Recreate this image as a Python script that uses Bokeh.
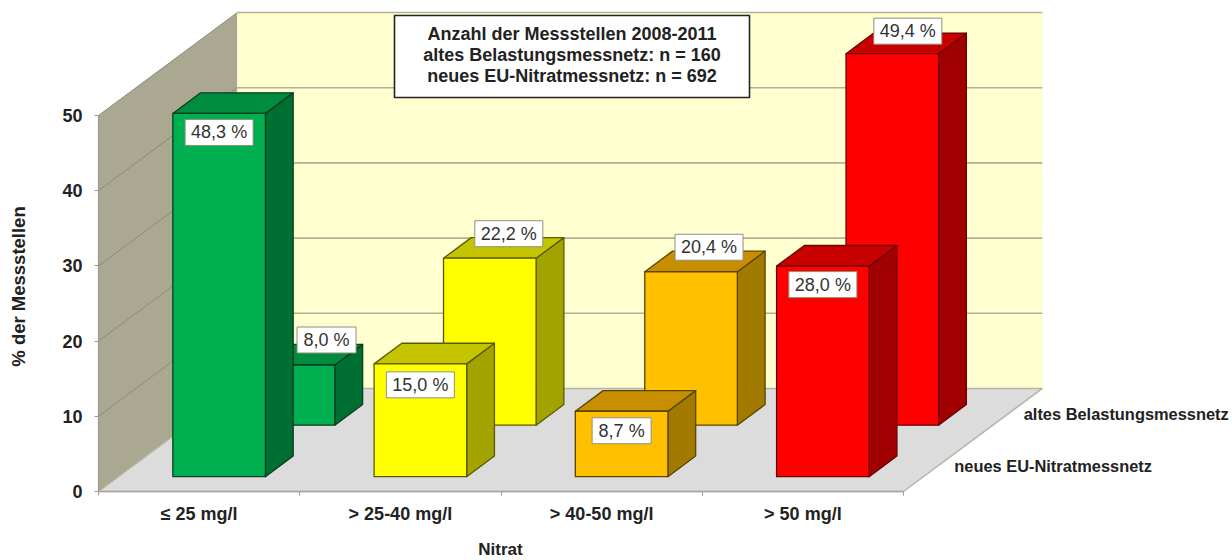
from math import pi
from bokeh.core.properties import value
from bokeh.embed import file_html
from bokeh.models import FixedTicker, LinearAxis, Range1d
from bokeh.plotting import figure
from bokeh.resources import INLINE

categories = ["≤ 25 mg/l", "> 25-40 mg/l", "> 40-50 mg/l", "> 50 mg/l"]
altes = [8.0, 22.2, 20.4, 49.4]
neues = [48.3, 15.0, 8.7, 28.0]
series_names = ["neues EU-Nitratmessnetz", "altes Belastungsmessnetz"]
y_ticks = [0, 10, 20, 30, 40, 50]
info_lines = ["Anzahl der Messstellen 2008-2011",
              "altes Belastungsmessnetz: n = 160",
              "neues EU-Nitratmessnetz: n = 692"]
y_title = "% der Messstellen"
x_title = "Nitrat"

front_colors = ["#00B050", "#FFFF00", "#FFC000", "#FF0000"]
top_colors = ["#008C3E", "#C4C400", "#C78F00", "#C80000"]
side_colors = ["#006F32", "#A3A300", "#A27A00", "#A00000"]
edge_colors = ["#0B3D20", "#5A5A00", "#5A4500", "#6B0000"]

# Page layout and projection
XS, YS = 201.25, 7.52           # pixels per category / per percent
LEFT_PX, BASE_PX = 98, 491      # page position of the origin
DEPTH_X, DEPTH_Y = 0.69, 13.7   # data shift over the whole depth of the floor
BAR_W = 0.46
ROW_FRONT = [0.144, 0.644]
ROW_THICK = 0.2

FONT = value("Liberation Sans")
W, H = 1232, 560

def px(x):
    return (x - LEFT_PX) / XS

def py(y):
    return (BASE_PX - y) / YS

def proj(x, y, d):
    return x + d * DEPTH_X, y + d * DEPTH_Y

p = figure(width=W, height=H, output_backend="svg", toolbar_location=None,
           x_axis_location=None, y_axis_location=None,
           x_range=Range1d(px(0), px(W)), y_range=Range1d(py(H), py(0)),
           min_border_left=0, min_border_right=0, min_border_top=0, min_border_bottom=0)
p.grid.visible = False
p.outline_line_color = None
p.background_fill_color = "white"
p.border_fill_color = "white"

ymax = max(y_ticks)
# Walls and floor
wx, wy = zip(*[proj(0, 0, 0), proj(0, 0, 1), proj(0, ymax, 1), proj(0, ymax, 0)])
p.patch(wx, wy, fill_color="#ABA891", line_color=None)
bx, by = zip(*[proj(0, 0, 1), proj(4, 0, 1), proj(4, ymax, 1), proj(0, ymax, 1)])
p.patch(bx, by, fill_color="#FFFFD0", line_color=None)
fx, fy = zip(*[proj(0, 0, 0), proj(4, 0, 0), proj(4, 0, 1), proj(0, 0, 1)])
p.patch(fx, fy, fill_color="#DCDCDC", line_color="#B4B4A8", line_width=1.5)

# Gridlines
for t in y_ticks[1:]:
    a = proj(0, t, 0)
    b = proj(0, t, 1)
    c = proj(4, t, 1)
    p.line([a[0], b[0]], [a[1], b[1]], line_color="#8C8A76", line_width=1)
    p.line([b[0], c[0]], [b[1], c[1]], line_color="#B2B098", line_width=1.6)

# Bars, back row first
for row, vals in ((1, altes), (0, neues)):
    d0 = ROW_FRONT[row]
    d1 = d0 + ROW_THICK
    for i, v in enumerate(vals):
        l = i + 0.5 - BAR_W / 2
        r = l + BAR_W
        side = [proj(r, 0, d0), proj(r, 0, d1), proj(r, v, d1), proj(r, v, d0)]
        top = [proj(l, v, d0), proj(r, v, d0), proj(r, v, d1), proj(l, v, d1)]
        front = [proj(l, 0, d0), proj(r, 0, d0), proj(r, v, d0), proj(l, v, d0)]
        for pts, col in ((side, side_colors[i]), (top, top_colors[i]), (front, front_colors[i])):
            xs, ys = zip(*pts)
            p.patch(xs, ys, fill_color=col, line_color=edge_colors[i], line_width=1.3,
                    line_join="round")

# Value labels (box centre offset from the front-face top centre, pixels)
label_dx = {1: [38, 19, 18, 15.5], 0: [0, 0, 0, 0]}
label_dy = {1: [25, 24.5, 24.5, 22.5], 0: [-19, -21, -19.5, -18.5]}
for row, vals in ((1, altes), (0, neues)):
    for i, v in enumerate(vals):
        cx, cy = proj(i + 0.5, v, ROW_FRONT[row])
        cx += label_dx[row][i] / XS
        cy += label_dy[row][i] / YS
        txt = f"{v:.1f}".replace(".", ",") + " %"
        box_w = 59 if v < 10 else 68
        p.rect([cx], [cy], width=box_w, height=26, width_units="screen", height_units="screen",
               fill_color="white", line_color="#8F8F80", line_width=1)
        p.text([cx], [cy], text=[txt], text_font=FONT, text_font_size="18px",
               text_color="#333333", text_align="center", text_baseline="middle")

# Series names beside the floor edge
for d, name in zip((0.25, 0.75), series_names):
    sx, sy = proj(4, 0, d)
    p.text([sx + 0.08], [sy], text=[name], text_font=FONT, text_font_size="16.4px",
           text_font_style="bold", text_color="#222222", text_align="left", text_baseline="middle")

# Info box
p.rect([px(571.5)], [py(56)], width=355, height=82, width_units="screen", height_units="screen",
       fill_color="white", line_color="#222222", line_width=1.6)
for line, yy in zip(info_lines, (33, 54, 75)):
    p.text([px(571.5)], [py(yy)], text=[line], text_font=FONT, text_font_size="18px",
           text_font_style="bold", text_color="#222222", text_align="center", text_baseline="middle")

# Axis titles
p.text([px(18)], [py(286)], text=[y_title], angle=pi / 2, text_font=FONT, text_font_size="18.5px",
       text_font_style="bold", text_color="#222222", text_align="center", text_baseline="middle")
p.text([px(500)], [py(549)], text=[x_title], text_font=FONT, text_font_size="17px",
       text_font_style="bold", text_color="#222222", text_align="center", text_baseline="middle")

# Axes
xaxis = LinearAxis(ticker=FixedTicker(ticks=[i + 0.5 for i in range(4)], minor_ticks=list(range(5))),
                   major_label_overrides={i + 0.5: c for i, c in enumerate(categories)},
                   bounds=(0, 4), fixed_location=0)
xaxis.major_tick_line_color = None
xaxis.major_tick_in = xaxis.major_tick_out = 0
xaxis.minor_tick_in = 0
xaxis.minor_tick_out = 4
xaxis.minor_tick_line_color = "#9A9A90"
xaxis.axis_line_color = "#A8A89C"
xaxis.axis_line_width = 1.6
xaxis.major_label_standoff = 8
xaxis.major_label_text_font = "Liberation Sans"
xaxis.major_label_text_font_style = "bold"
xaxis.major_label_text_font_size = "18px"
xaxis.major_label_text_color = "#222222"
p.add_layout(xaxis, "below")

yaxis = LinearAxis(ticker=FixedTicker(ticks=y_ticks), bounds=(0, ymax), fixed_location=0)
yaxis.major_tick_in = 0
yaxis.major_tick_out = 4
yaxis.minor_tick_line_color = None
yaxis.major_tick_line_color = "#9A9A90"
yaxis.axis_line_color = "#9A9A90"
yaxis.axis_line_width = 1.2
yaxis.major_label_standoff = 12
yaxis.major_label_text_font = "Liberation Sans"
yaxis.major_label_text_font_style = "bold"
yaxis.major_label_text_font_size = "18px"
yaxis.major_label_text_color = "#222222"
p.add_layout(yaxis, "left")

open("out.html", "w").write(file_html(p, INLINE))
